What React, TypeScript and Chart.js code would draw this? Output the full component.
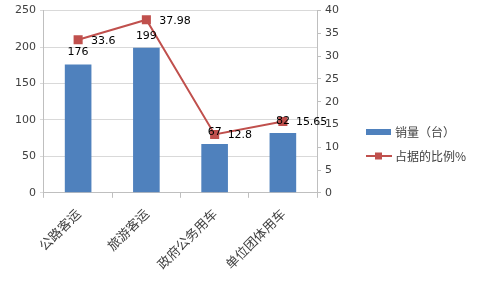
import React, { useEffect, useRef } from "react";
import { Chart, registerables } from "chart.js";

Chart.register(...registerables);

const categories = ["公路客运", "旅游客运", "政府公务用车", "单位团体用车"];
const salesValues = [176, 199, 67, 82];
const shareValues = [33.6, 37.98, 12.8, 15.65];
const shareLabels = ["33.6", "37.98", "12.8", "15.65"];
const seriesNames = ["销量（台）", "占据的比例%"];

const BLUE = "#4f81bd";
const RED = "#c0504d";
const TEXT = "#404040";
const NUM_FONT = "DejaVu Sans";
const CJK_FONT = "'Noto Sans CJK SC'";

const labelPlugin = {
  id: "labels",
  afterDatasetsDraw(chart: any) {
    const ctx = chart.ctx;
    ctx.save();
    ctx.fillStyle = "#000";
    ctx.font = `11px ${NUM_FONT}`;
    const bars = chart.getDatasetMeta(0).data;
    ctx.textAlign = "center";
    ctx.textBaseline = "middle";
    bars.forEach((b: any, i: number) => {
      ctx.fillText(String(salesValues[i]), b.x, b.y - 12);
    });
    const pts = chart.getDatasetMeta(1).data;
    ctx.textAlign = "left";
    pts.forEach((p: any, i: number) => {
      ctx.fillText(shareLabels[i], p.x + 13, p.y + 1);
    });
    // legend
    const lx = 366;
    ctx.fillStyle = BLUE;
    ctx.fillRect(lx, 129, 25, 6);
    ctx.strokeStyle = RED;
    ctx.lineWidth = 2;
    ctx.beginPath();
    ctx.moveTo(lx, 156);
    ctx.lineTo(lx + 26, 156);
    ctx.stroke();
    ctx.fillStyle = RED;
    ctx.fillRect(lx + 9, 152.5, 7, 7);
    ctx.fillStyle = TEXT;
    ctx.font = `12px ${CJK_FONT}`;
    ctx.textAlign = "left";
    ctx.fillText(seriesNames[0], lx + 29, 132);
    ctx.fillText(seriesNames[1], lx + 29, 156);
    ctx.restore();
  },
};

export default function App() {
  const ref = useRef<HTMLCanvasElement>(null);
  useEffect(() => {
    document.body.style.margin = "0";
    const chart = new Chart(ref.current!, {
      type: "bar",
      data: {
        labels: categories,
        datasets: [
          {
            type: "bar",
            label: seriesNames[0],
            data: salesValues,
            backgroundColor: BLUE,
            yAxisID: "y",
            barPercentage: 0.78,
            categoryPercentage: 0.5,
            order: 2,
          },
          {
            type: "line",
            label: seriesNames[1],
            data: shareValues,
            borderColor: RED,
            backgroundColor: RED,
            borderWidth: 2,
            pointStyle: "rect",
            pointRadius: 5,
            pointBackgroundColor: RED,
            pointBorderColor: RED,
            yAxisID: "y1",
            order: 1,
          },
        ],
      },
      options: {
        responsive: false,
        animation: false,
        layout: { padding: { left: 11, right: 137, top: 6, bottom: 3 } },
        plugins: { legend: { display: false }, tooltip: { enabled: false } },
        scales: {
          x: {
            grid: { drawOnChartArea: false, drawTicks: true, tickLength: 5, color: "#bfbfbf" },
            border: { color: "#bfbfbf" },
            ticks: {
              minRotation: 45,
              maxRotation: 45,
              padding: 8,
              color: TEXT,
              font: { family: CJK_FONT, size: 13 },
            },
          },
          y: {
            position: "left",
            min: 0,
            max: 250,
            ticks: { stepSize: 50, color: TEXT, font: { family: NUM_FONT, size: 11 }, padding: 4 },
            grid: { color: "#d9d9d9", tickLength: 4 },
            border: { color: "#bfbfbf" },
          },
          y1: {
            position: "right",
            min: 0,
            max: 40,
            ticks: { stepSize: 5, color: TEXT, font: { family: NUM_FONT, size: 11 }, padding: 4 },
            grid: { drawOnChartArea: false, tickLength: 4, color: "#bfbfbf" },
            border: { color: "#bfbfbf" },
          },
        },
      },
      plugins: [labelPlugin],
    });
    return () => chart.destroy();
  }, []);
  return (
    <div style={{ width: 480, height: 283, background: "#fff" }}>
      <canvas ref={ref} width={480} height={283} />
    </div>
  );
}
